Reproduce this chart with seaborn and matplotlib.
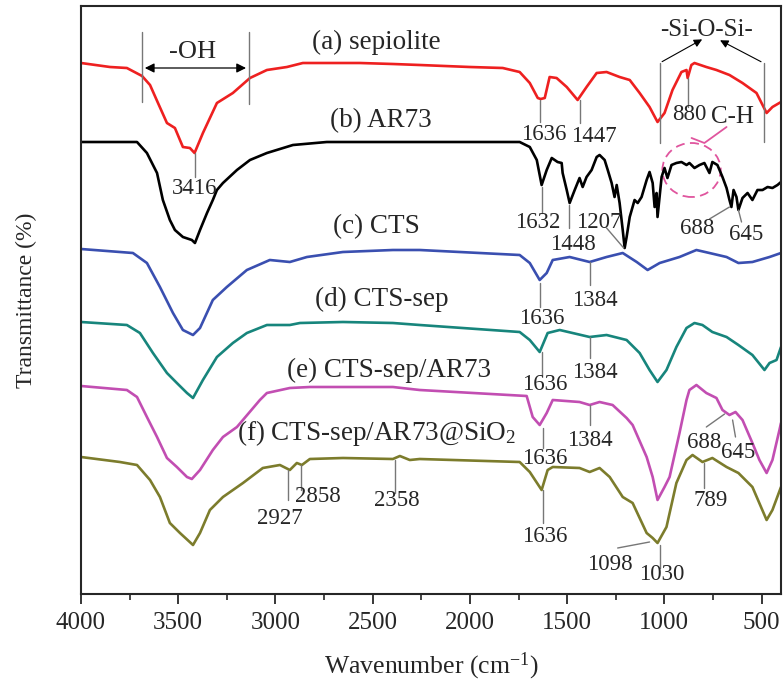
import numpy as np
import pandas as pd
import seaborn as sns
import matplotlib
matplotlib.use("Agg")
import matplotlib.pyplot as plt
from matplotlib.patches import Ellipse
from matplotlib.ticker import MultipleLocator

# ---------------- data (wavenumber cm-1, transmittance a.u., stacked) ----------------
wn_a = [4000, 3851, 3764, 3686, 3645, 3604, 3558, 3517, 3476, 3440, 3416, 3373, 3301, 3219, 3131, 3044,
        2941, 2859, 2736, 2566, 2396, 2258, 2001, 1831, 1744, 1692, 1651, 1636, 1615, 1590, 1554, 1502,
        1446, 1400, 1348, 1297, 1230, 1178, 1127, 1076, 1035, 999, 958, 912, 886, 880, 861, 845, 784,
        732, 665, 598, 526, 474, 444, 400]
t_a = [537, 533, 532, 524, 515, 497, 477, 472, 453, 452, 447, 467, 497, 507, 522, 530,
       533, 537, 537, 537, 536, 535, 533, 532, 528, 517, 502, 501, 502, 523, 522, 513,
       500, 513, 527, 528, 523, 520, 507, 493, 478, 487, 510, 528, 530, 522, 535, 537, 533,
       530, 525, 517, 507, 487, 493, 498]

wn_b = [4000, 3712, 3661, 3609, 3579, 3543, 3517, 3476, 3430, 3414, 3388, 3352, 3322, 3301, 3270, 3198,
        3131, 3044, 2910, 2736, 2258, 1744, 1692, 1656, 1631, 1605, 1579, 1564, 1549, 1528, 1523, 1502,
        1487, 1461, 1436, 1420, 1400, 1374, 1348, 1333, 1307, 1291, 1271, 1256, 1245, 1230, 1214, 1204,
        1194, 1178, 1153, 1137, 1117, 1091, 1076, 1060, 1050, 1040, 1035, 1014, 999, 984, 963, 938,
        912, 886, 871, 845, 819, 794, 768, 753, 727, 701, 680, 665, 655, 644, 629, 619, 598, 572,
        547, 521, 495, 469, 444, 418, 400]
t_b = [458, 458, 447, 427, 400, 380, 370, 363, 360, 357, 370, 387, 400, 410, 417, 430,
       440, 447, 455, 458, 458, 458, 453, 440, 415, 430, 442, 440, 438, 437, 427, 410,
       397, 410, 422, 413, 423, 430, 443, 445, 440, 430, 417, 403, 415, 397, 370, 352,
       363, 383, 400, 397, 403, 420, 428, 417, 393, 407, 383, 423, 432, 422, 435, 437,
       438, 435, 437, 432, 435, 437, 427, 438, 435, 423, 412, 400, 393, 410, 403, 390, 402, 407,
       400, 410, 410, 413, 412, 415, 418]

wn_c = [4000, 3733, 3661, 3594, 3527, 3476, 3424, 3388, 3322, 3250, 3147, 3029, 2926, 2838, 2653, 2396,
        2258, 1744, 1692, 1641, 1605, 1574, 1487, 1384, 1297, 1214, 1142, 1086, 1024, 922, 835, 768,
        680, 619, 547, 459, 400]
t_c = [351, 347, 337, 313, 287, 270, 265, 272, 300, 313, 330, 340, 338, 343, 348, 350,
       350, 345, 337, 320, 327, 340, 343, 338, 343, 347, 338, 330, 337, 343, 350, 347,
       343, 337, 338, 343, 347]

wn_d = [4000, 3764, 3697, 3630, 3558, 3507, 3455, 3424, 3373, 3301, 3219, 3147, 3044, 2926, 2874, 2653,
        2396, 2258, 1744, 1692, 1641, 1600, 1538, 1384, 1297, 1194, 1127, 1076, 1035, 989, 938, 886,
        845, 804, 753, 680, 619, 547, 485, 459, 423, 400]
t_d = [278, 275, 267, 247, 227, 217, 207, 202, 220, 243, 257, 267, 275, 275, 277, 278,
       277, 275, 268, 260, 248, 267, 270, 263, 265, 260, 247, 230, 218, 230, 253, 272,
       277, 275, 268, 263, 255, 245, 230, 237, 240, 253]

wn_e = [4000, 3764, 3712, 3661, 3609, 3558, 3507, 3455, 3430, 3388, 3322, 3270, 3198, 3080, 3044, 2926,
        2823, 2396, 2258, 1708, 1677, 1641, 1605, 1574, 1436, 1384, 1333, 1266, 1194, 1163, 1091, 1060,
        1035, 999, 973, 922, 886, 871, 835, 784, 732, 701, 665, 634, 598, 547, 511, 474, 444, 408, 400]
t_e = [214, 210, 203, 183, 163, 142, 133, 123, 121, 130, 150, 163, 173, 200, 207, 212,
       213, 213, 210, 204, 183, 175, 187, 200, 198, 195, 198, 195, 182, 175, 143, 123,
       100, 113, 123, 167, 200, 210, 215, 207, 202, 190, 185, 188, 180, 157, 140, 127, 140, 170, 177]

wn_f = [4000, 3800, 3712, 3645, 3594, 3543, 3491, 3424, 3388, 3337, 3270, 3167, 3065, 2977, 2926, 2890,
        2864, 2823, 2653, 2396, 2360, 2309, 2258, 1744, 1692, 1631, 1600, 1574, 1436, 1384, 1333, 1281,
        1214, 1163, 1091, 1060, 1035, 989, 938, 886, 855, 804, 753, 680, 619, 547, 474, 444, 400]
t_f = [143, 138, 135, 120, 103, 77, 67, 55, 67, 90, 103, 117, 132, 135, 130, 137,
       135, 141, 142, 141, 144, 140, 141, 138, 128, 110, 130, 133, 132, 128, 132, 123,
       103, 97, 67, 62, 57, 73, 117, 140, 145, 138, 142, 133, 127, 113, 80, 90, 113]

series_names = ["(a) sepiolite", "(b) AR73", "(c) CTS", "(d) CTS-sep", "(e) CTS-sep/AR73",
                "(f) CTS-sep/AR73@SiO$_{2}$"]
series_x = [wn_a, wn_b, wn_c, wn_d, wn_e, wn_f]
series_y = [t_a, t_b, t_c, t_d, t_e, t_f]
colors = ["#ee2020", "#000000", "#3a4fb0", "#17857c", "#c24eb2", "#7c7c2c"]

xticks = [4000, 3500, 3000, 2500, 2000, 1500, 1000, 500]

# ---------------- figure ----------------
sns.set_style("ticks")
plt.rcParams["font.family"] = ["Liberation Serif", "DejaVu Serif"]
plt.rcParams["mathtext.fontset"] = "custom"
plt.rcParams["mathtext.rm"] = "Liberation Serif"
plt.rcParams["mathtext.it"] = "Liberation Serif:italic"

fig = plt.figure(figsize=(7.84, 6.95), dpi=100)
ax = fig.add_axes([81 / 784, 1 - 594 / 695, 700 / 784, 588 / 695])

frames = []
for name, xs, ys in zip(series_names, series_x, series_y):
    frames.append(pd.DataFrame({"wn": xs, "T": ys, "sample": name}))
df = pd.concat(frames, ignore_index=True)

sns.lineplot(data=df, x="wn", y="T", hue="sample", palette=dict(zip(series_names, colors)),
             estimator=None, sort=True, linewidth=1.9, legend=False, ax=ax)

ax.set_xlim(4000, 400)
ax.set_ylim(6, 594)
ax.set_xticks(xticks)
ax.xaxis.set_minor_locator(MultipleLocator(250))
ax.set_yticks([])
ax.tick_params(axis="x", which="major", direction="out", length=7, width=1.3, labelsize=18, pad=6)
ax.tick_params(axis="x", which="minor", direction="out", length=4, width=1.2)
for s in ax.spines.values():
    s.set_linewidth(1.5)
ax.set_xlabel("Wavenumber (cm$^{-1}$)", fontsize=18.5, labelpad=12)
ax.set_ylabel("Transmittance (%)", fontsize=17, labelpad=32)

# curve labels (left-aligned starts)
label_pos = [(2813, 558), (2720, 479), (2705, 373), (2797, 301), (2941, 230), (3198, 167)]
for name, (lx, ly) in zip(series_names, label_pos):
    ax.text(lx, ly, name, fontsize=19.5, ha="left", va="center")

gray = "#777777"
pk = 16.5

def peak(x0, y0, x1, y1, tx, ty, text):
    ax.plot([x0, x1], [y0, y1], color=gray, lw=1.0)
    ax.text(tx, ty, text, fontsize=pk, ha="center", va="center")

# -OH bracket
ax.plot([3686, 3686], [568, 498], color=gray, lw=1.0)
ax.plot([3137, 3137], [568, 496], color=gray, lw=1.0)
ax.annotate("", xy=(3686, 532), xytext=(3137, 532),
            arrowprops=dict(arrowstyle="<|-|>", color="black", lw=0.9, mutation_scale=14))
ax.text(3424, 548, "-OH", fontsize=19, ha="center", va="center")

# sepiolite peaks
peak(3416, 447, 3416, 423, 3416, 412, "3416")
peak(1641, 500, 1641, 478, 1620, 465, "1636")
peak(1436, 500, 1436, 477, 1364, 463, "1447")
peak(880, 522, 880, 493, 870, 485, "880")
ax.text(649, 483, "C-H", fontsize=18, ha="center", va="center")

# -Si-O-Si- bracket
ax.text(783, 570, "-Si-O-Si-", fontsize=18, ha="center", va="center")
ax.plot([1024, 1024], [537, 457], color=gray, lw=1.0)
ax.plot([490, 490], [537, 458], color=gray, lw=1.0)
ax.annotate("", xy=(793, 562), xytext=(1024, 537),
            arrowprops=dict(arrowstyle="-|>", color="black", lw=0.8, mutation_scale=12))
ax.annotate("", xy=(726, 561), xytext=(490, 537),
            arrowprops=dict(arrowstyle="-|>", color="black", lw=0.8, mutation_scale=12))

# C-H dashed circle
pink = "#e0559e"
ax.add_patch(Ellipse((860, 430), width=300, height=54, fill=False, ls=(0, (5, 3)),
                     edgecolor=pink, lw=1.3))
ax.plot([860, 794, 680], [462, 457, 473], color=pink, lw=1.3)

# AR73 peaks
peak(1631, 413, 1631, 387, 1651, 378, "1632")
peak(1492, 395, 1492, 372, 1471, 355, "1448")
peak(1209, 352, 1297, 372, 1338, 378, "1207")
peak(665, 393, 768, 381, 829, 372, "688")
peak(619, 390, 603, 378, 577, 365, "645")

# CTS peaks
peak(1641, 317, 1641, 293, 1631, 282, "1636")
peak(1384, 338, 1384, 315, 1358, 300, "1384")

# CTS-sep peaks
peak(1631, 248, 1631, 225, 1615, 215, "1636")
peak(1384, 263, 1384, 242, 1358, 227, "1384")

# CTS-sep/AR73 peaks
peak(1626, 172, 1626, 152, 1615, 142, "1636")
peak(1384, 195, 1384, 175, 1384, 160, "1384")
peak(690, 186, 784, 173, 794, 158, "688")
peak(649, 180, 634, 163, 623, 148, "645")

# CTS-sep/AR73@SiO2 peaks
peak(2936, 130, 2936, 100, 2977, 82, "2927")
peak(2869, 135, 2869, 110, 2782, 103, "2858")
peak(2386, 140, 2386, 107, 2376, 100, "2358")
peak(1626, 110, 1626, 77, 1615, 63, "1636")
peak(1076, 58, 1240, 52, 1281, 35, "1098")
peak(1024, 55, 1024, 32, 1014, 25, "1030")
peak(794, 137, 794, 112, 763, 100, "789")

fig.savefig("out.png", dpi=100)
